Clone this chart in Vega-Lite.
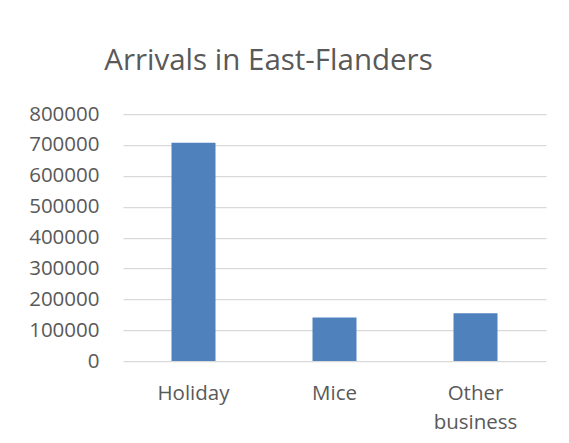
{
  "$schema": "https://vega.github.io/schema/vega-lite/v6.json",
  "width": 423,
  "height": 247,
  "autosize": {"type": "none"},
  "padding": {"left": 123, "top": 114, "right": 23, "bottom": 82},
  "background": "white",
  "title": {
    "text": "Arrivals in East-Flanders",
    "anchor": "middle",
    "frame": "group",
    "dx": -66,
    "baseline": "alphabetic",
    "offset": 5,
    "font": "Open Sans",
    "fontSize": 29.5,
    "fontWeight": "normal",
    "color": "#595959"
  },
  "data": {
    "values": [
      {"purpose": "Holiday", "arrivals": 707000},
      {"purpose": "Mice", "arrivals": 141000},
      {"purpose": "Other business", "arrivals": 155000}
    ]
  },
  "mark": {"type": "bar", "color": "#4F81BD"},
  "encoding": {
    "x": {
      "field": "purpose",
      "type": "nominal",
      "sort": null,
      "title": null,
      "scale": {"paddingInner": 0.688, "paddingOuter": 0.344},
      "axis": {
        "domain": false,
        "ticks": false,
        "tickSize": 0,
        "labelAngle": 0,
        "labelPadding": 22,
        "labelBaseline": "top",
        "labelFont": "Open Sans",
        "labelFontSize": 20.5,
        "labelColor": "#595959",
        "labelLineHeight": 29,
        "labelExpr": "datum.label == 'Other business' ? ['Other', 'business'] : datum.label"
      }
    },
    "y": {
      "field": "arrivals",
      "type": "quantitative",
      "title": null,
      "scale": {"domain": [0, 800000], "nice": false},
      "axis": {
        "values": [0, 100000, 200000, 300000, 400000, 500000, 600000, 700000, 800000],
        "format": "d",
        "domain": false,
        "ticks": false,
        "tickSize": 0,
        "labelPadding": 24,
        "labelFont": "Open Sans",
        "labelFontSize": 20.5,
        "labelColor": "#595959",
        "grid": true,
        "gridColor": "#d9d9d9",
        "gridWidth": 1.25
      }
    }
  },
  "config": {"view": {"stroke": null}}
}
